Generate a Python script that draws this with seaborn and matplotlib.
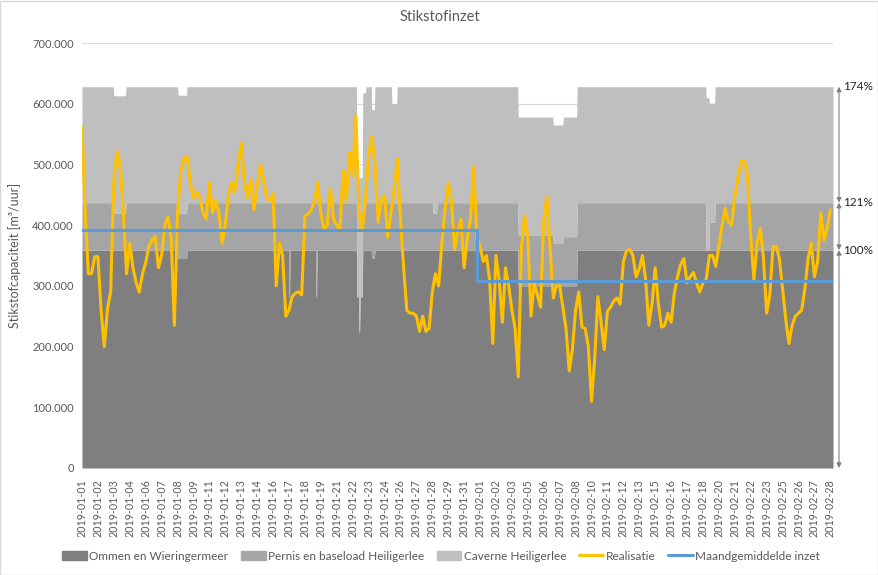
import numpy as np
import pandas as pd
import matplotlib
matplotlib.use("Agg")
import matplotlib.pyplot as plt
import seaborn as sns
from matplotlib.patches import Patch, Rectangle
from matplotlib.lines import Line2D
from matplotlib.ticker import FuncFormatter, MultipleLocator

# ---------------- data ----------------
title = "Stikstofinzet"
ylabel = "Stikstofcapaciteit [m³/uur]"
series_names = ["Ommen en Wieringermeer", "Pernis en baseload Heiligerlee",
                "Caverne Heiligerlee", "Realisatie", "Maandgemiddelde inzet"]
start = "2019-01-01 00:00"
n_hours = 1416

# capacity layers (cumulative tops, x1000 m3/h), step segments starting at hour offset
seg_start = [0, 60, 83, 181, 198, 390, 392, 441, 443, 518, 522, 524, 529, 535,
             546, 552, 584, 594, 661, 669, 822, 888, 907, 933, 1176, 1182, 1193]
ommen_top = [359, 359, 359, 345, 359, 282, 359, 282, 359, 282, 224, 282, 359, 359,
             346, 359, 359, 359, 359, 359, 300, 300, 300, 359, 359, 359, 359]
pernis_top = [437, 420, 437, 420, 437, 437, 437, 437, 437, 282, 224, 282, 437, 437,
              437, 437, 437, 437, 420, 437, 384, 371, 381, 437, 359, 405, 437]
caverne_top = [628, 613, 628, 614, 628, 628, 628, 628, 628, 478, 478, 478, 618, 628,
               590, 628, 600, 628, 628, 628, 578, 565, 578, 628, 610, 601, 628]

# realisation, 6-hourly readings (x1000 m3/h)
realisatie = [
    562, 420, 320, 320, 348, 348, 260, 200, 262, 290,
    475, 521, 500, 420, 320, 370, 330, 305, 290, 320,
    338, 365, 376, 381, 330, 350, 400, 414, 380, 235,
    420, 490, 510, 513, 470, 445, 455, 445, 420, 410,
    470, 420, 440, 420, 370, 400, 450, 470, 455, 500,
    535, 470, 445, 475, 425, 465, 500, 475, 445, 440,
    452, 300, 370, 350, 250, 260, 282, 288, 290, 285,
    415, 418, 425, 440, 470, 420, 393, 400, 460, 410,
    400, 390, 490, 440, 520, 480, 580, 420, 390, 440,
    515, 546, 500, 405, 440, 450, 380, 420, 460, 510,
    410, 330, 260, 255, 255, 250, 225, 250, 225, 230,
    290, 320, 300, 370, 425, 470, 440, 360, 390, 410,
    330, 380, 410, 495, 380, 365, 340, 350, 310, 205,
    350, 310, 240, 330, 300, 260, 230, 150, 365, 415,
    380, 250, 305, 285, 265, 410, 447, 360, 280, 300,
    300, 265, 230, 160, 195, 260, 290, 232, 230, 200,
    110, 180, 282, 240, 195, 258, 265, 275, 280, 270,
    340, 358, 360, 350, 315, 328, 350, 310, 235, 270,
    330, 270, 232, 235, 255, 240, 288, 315, 335, 345,
    305, 315, 322, 305, 290, 305, 310, 350, 350, 332,
    365, 400, 428, 405, 400, 447, 480, 505, 505, 480,
    380, 310, 370, 395, 345, 255, 285, 365, 365, 345,
    295, 245, 205, 235, 250, 255, 260, 295, 345, 370,
    315, 340, 420, 375, 395, 425]

month_starts = ["2019-01-01", "2019-02-01"]
month_avg = [392, 308]

pct_labels = ["174%", "121%", "100%"]

# ---------------- styling ----------------
C_DARK, C_MED, C_LIGHT = "#7f7f7f", "#a5a5a5", "#bfbfbf"
C_YEL, C_BLUE = "#ffc000", "#5b9bd5"
C_TXT = "#595959"

sns.set_theme(style="white")
plt.rcParams["font.family"] = ["Lato", "DejaVu Sans"]

fig = plt.figure(figsize=(8.79, 5.75), dpi=100)
W, H = 879, 575
L, R, T, B = 82, 833, 43, 468
ax = fig.add_axes([L / W, 1 - B / H, (R - L) / W, (B - T) / H])

t0 = pd.Timestamp(start)
hours = pd.date_range(t0, periods=n_hours, freq="h")
seg_len = np.diff(seg_start + [n_hours])
om = np.repeat(ommen_top, seg_len) * 1000.0
pe = np.repeat(pernis_top, seg_len) * 1000.0
ca = np.repeat(caverne_top, seg_len) * 1000.0

ax.stackplot(hours, om, pe - om, ca - pe, colors=[C_DARK, C_MED, C_LIGHT],
             linewidth=0, zorder=2)

t6 = pd.date_range(t0, periods=len(realisatie), freq="6h")
sns.lineplot(x=t6, y=np.array(realisatie) * 1000.0, color=C_YEL, lw=2.2, ax=ax,
             zorder=4)

mx = list(pd.to_datetime(month_starts)) + [hours[-1]]
my = [v * 1000.0 for v in month_avg] + [month_avg[-1] * 1000.0]
sns.lineplot(x=mx, y=my, color=C_BLUE, lw=2.2, ax=ax, drawstyle="steps-post",
             zorder=5)

ax.set_xlim(hours[0], hours[-1])
ax.set_ylim(0, 700000)
ax.yaxis.set_major_locator(MultipleLocator(100000))
ax.yaxis.set_major_formatter(FuncFormatter(lambda v, p: f"{int(v):,}".replace(",", ".")))
ax.grid(False)
ax.yaxis.grid(True, color="#d9d9d9", lw=0.8, zorder=0)
ax.set_axisbelow(True)
for s in ax.spines.values():
    s.set_visible(False)

tick_pos = hours[::30]
ax.set_xticks(tick_pos)
ax.set_xticklabels([t.strftime("%Y-%m-%d") for t in tick_pos], rotation=90,
                   fontsize=7.7, color=C_TXT)
ax.tick_params(axis="x", length=3, color="#d9d9d9", pad=5)
ax.tick_params(axis="y", length=0, pad=6, labelsize=8, labelcolor=C_TXT)
ax.set_xlabel("")
ax.set_ylabel(ylabel, fontsize=9, color=C_TXT, labelpad=8)
fig.text(0.5, 1 - 17 / H, title, ha="center", va="center", fontsize=10.5, color=C_TXT)

# dimension arrows at right
levels = [caverne_top[-1] * 1000.0, pernis_top[-1] * 1000.0, ommen_top[-1] * 1000.0, 0.0]
xa = (839 - L) / (R - L)
for i in range(3):
    ax.annotate("", xy=(xa, levels[i]), xytext=(xa, levels[i + 1]),
                xycoords=("axes fraction", "data"), textcoords=("axes fraction", "data"),
                arrowprops=dict(arrowstyle="<|-|>", color="#808080", lw=0.8,
                                mutation_scale=7, shrinkA=0, shrinkB=0),
                annotation_clip=False)
    ax.text((843 - L) / (R - L), levels[i], pct_labels[i], transform=ax.get_yaxis_transform(),
            ha="left", va="center", fontsize=8.5, color="#262626", clip_on=False)

handles = [Patch(color=C_DARK), Patch(color=C_MED), Patch(color=C_LIGHT),
           Line2D([], [], color=C_YEL, lw=2.2), Line2D([], [], color=C_BLUE, lw=2.2)]
fig.legend(handles, series_names, loc="center", bbox_to_anchor=(441 / W, 1 - 556 / H),
           ncol=5, frameon=False, fontsize=8.5, handlelength=2.1, handletextpad=0.2,
           columnspacing=1.05, labelcolor=C_TXT)

fig.add_artist(Rectangle((0.5 / W, 0.5 / H), 1 - 1 / W, 1 - 1 / H, transform=fig.transFigure,
                         fill=False, edgecolor="#d9d9d9", lw=1))
fig.savefig("out.png", dpi=100, facecolor="white")
